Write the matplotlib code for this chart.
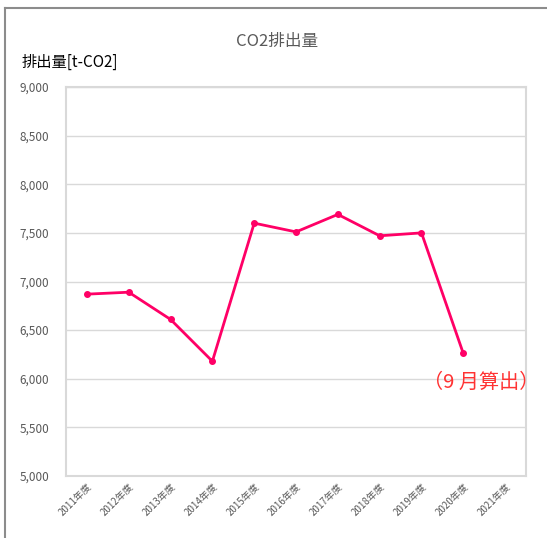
import matplotlib
matplotlib.use("Agg")
import matplotlib.pyplot as plt
from matplotlib.lines import Line2D
from matplotlib.ticker import FuncFormatter

plt.rcParams['font.family'] = ['Noto Sans CJK JP', 'DejaVu Sans']

# データ
years = ["2011年度", "2012年度", "2013年度", "2014年度", "2015年度", "2016年度",
         "2017年度", "2018年度", "2019年度", "2020年度", "2021年度"]
emissions = [6870, 6890, 6610, 6180, 7600, 7510, 7690, 7470, 7500, 6260]

fig = plt.figure(figsize=(5.47, 5.38), dpi=100)
ax = fig.add_axes([0.1207, 0.1152, 0.841, 0.7231])

x = list(range(len(emissions)))
ax.plot(x, emissions, color="#FF0066", linewidth=2, marker="o", markersize=4)

ax.set_xlim(-0.5, len(years) - 0.5)
ax.set_ylim(5000, 9000)
ax.set_yticks(range(5000, 9001, 500))
ax.yaxis.set_major_formatter(FuncFormatter(lambda v, p: f"{int(v):,}"))
ax.set_xticks(range(len(years)))
ax.set_xticklabels(years, rotation=45, ha="right", rotation_mode="anchor",
                   fontsize=7, color="#595959")
ax.tick_params(axis="y", labelsize=8.5, labelcolor="#595959", length=0, pad=12)
ax.tick_params(axis="x", length=0, pad=4)
ax.grid(axis="y", color="#D9D9D9", linewidth=1)
ax.set_axisbelow(True)
for s in ax.spines.values():
    s.set_color("#D9D9D9")
    s.set_linewidth(1.5)

# 注記
ax.text(9.43, 5960, "（9 月算出）", color="#FF3333", fontsize=14.5, ha="center", va="center")

fig.text(0.507, 0.922, "CO2排出量", ha="center", va="center", fontsize=12, color="#595959")
fig.text(0.04, 0.885, "排出量[t-CO2]", ha="left", va="center", fontsize=11, color="black")

# 外枠
fig.add_artist(Line2D([0.009, 0.009], [0, 0.985], transform=fig.transFigure, color="#8C8C8C", linewidth=1.5))
fig.add_artist(Line2D([0.009, 1], [0.985, 0.985], transform=fig.transFigure, color="#8C8C8C", linewidth=1.5))

fig.savefig("out.png", dpi=100)
